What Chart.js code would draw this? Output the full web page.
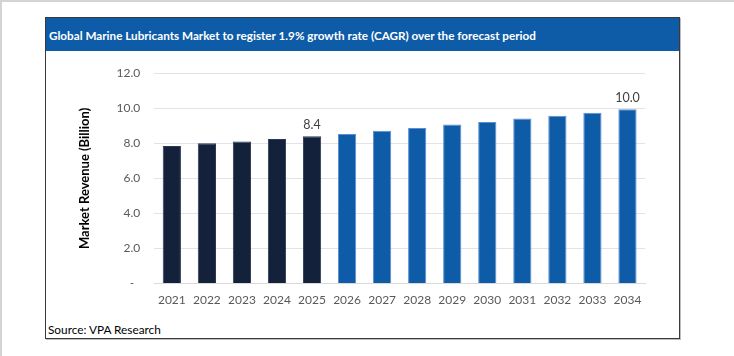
<!DOCTYPE html>
<html>
<head>
<meta charset="utf-8">
<script src="https://cdn.jsdelivr.net/npm/chart.js@4"></script>
<style>
  html, body { margin:0; padding:0; background:#fff; }
  body { width:734px; height:356px; position:relative; overflow:hidden; font-family: Lato, "Open Sans", sans-serif; }
  #pageTop { position:absolute; left:0; top:0; width:734px; height:2px; background:#d4d4d4; }
  #pageLeft { position:absolute; left:0; top:0; width:2px; height:356px; background:#d4d4d4; }
  #frame { position:absolute; left:45px; top:17px; width:633px; height:320px; border:1px solid #3a3a3a; box-shadow:1px 1px 0 #bdbdbd; background:#fff; }
  #titlebar { position:absolute; left:0; top:0; width:633px; height:33px; background:#0e5ca8; color:#fff; font-size:11.7px; font-weight:bold; line-height:34px; padding-left:3px; box-sizing:border-box; white-space:nowrap; }
  #source { position:absolute; left:2px; top:304px; font-size:11.8px; color:#000; white-space:nowrap; }
  #wrap { position:absolute; left:0; top:34px; width:633px; height:268px; }
</style>
</head>
<body>
<div id="pageTop"></div>
<div id="pageLeft"></div>
<div id="frame">
  <div id="titlebar">Global Marine Lubricants Market to register 1.9% growth rate (CAGR) over the forecast period</div>
  <div id="wrap"><canvas id="c" width="633" height="268"></canvas></div>
  <div id="source">Source: VPA Research</div>
</div>
<script>
const years = ["2021","2022","2023","2024","2025","2026","2027","2028","2029","2030","2031","2032","2033","2034"];
const revenue = [7.85, 8.0, 8.11, 8.25, 8.4, 8.53, 8.72, 8.88, 9.07, 9.22, 9.41, 9.58, 9.75, 9.95];
const barColors = ["#13223a","#13223a","#13223a","#13223a","#13223a","#0e5ca8","#0e5ca8","#0e5ca8","#0e5ca8","#0e5ca8","#0e5ca8","#0e5ca8","#0e5ca8","#0e5ca8"];
const labelText = ["","","","","8.4","","","","","","","","","10.0"];
const yTicks = [0, 2, 4, 6, 8, 10, 12];

const labelPlugin = {
  id: 'valLabels',
  afterDatasetsDraw(chart) {
    const ctx = chart.ctx;
    const meta = chart.getDatasetMeta(0);
    ctx.save();
    ctx.font = '12.5px Lato, sans-serif';
    ctx.fillStyle = '#404040';
    ctx.textAlign = 'center';
    ctx.textBaseline = 'bottom';
    meta.data.forEach((bar, i) => {
      if (labelText[i]) ctx.fillText(labelText[i], bar.x, bar.y - 5);
    });
    ctx.restore();
  }
};

new Chart(document.getElementById('c'), {
  type: 'bar',
  data: {
    labels: years,
    datasets: [{
      data: revenue,
      backgroundColor: barColors,
      borderColor: barColors.map(c => c === "#0e5ca8" ? "#5b8fd0" : "#2a3a55"),
      borderWidth: 1,
      barPercentage: 0.52,
      categoryPercentage: 1.0
    }]
  },
  options: {
    responsive: false,
    animation: false,
    devicePixelRatio: 1,
    layout: { padding: { left: 27, right: 34, top: 16, bottom: 4 } },
    plugins: { legend: { display: false }, tooltip: { enabled: false } },
    scales: {
      x: {
        grid: { display: false, drawTicks: false },
        border: { color: '#d9d9d9', width: 1 },
        ticks: { color: '#595959', font: { family: 'Lato', size: 12 }, padding: 9, maxRotation: 0, autoSkip: false }
      },
      y: {
        min: 0, max: 12,
        afterBuildTicks(axis) { axis.ticks = yTicks.map(v => ({ value: v })); },
        grid: { color: '#e3e3e3', lineWidth: 1, drawTicks: false },
        border: { display: false },
        ticks: {
          color: '#595959', font: { family: 'Lato', size: 12 }, padding: 14,
          callback: v => v === 0 ? '-  ' : v.toFixed(1)
        },
        title: { display: true, text: 'Market Revenue (Billion)', color: '#000', font: { family: 'Lato', size: 13, weight: 'bold' }, padding: { bottom: 10 } }
      }
    }
  },
  plugins: [labelPlugin]
});
</script>
</body>
</html>
